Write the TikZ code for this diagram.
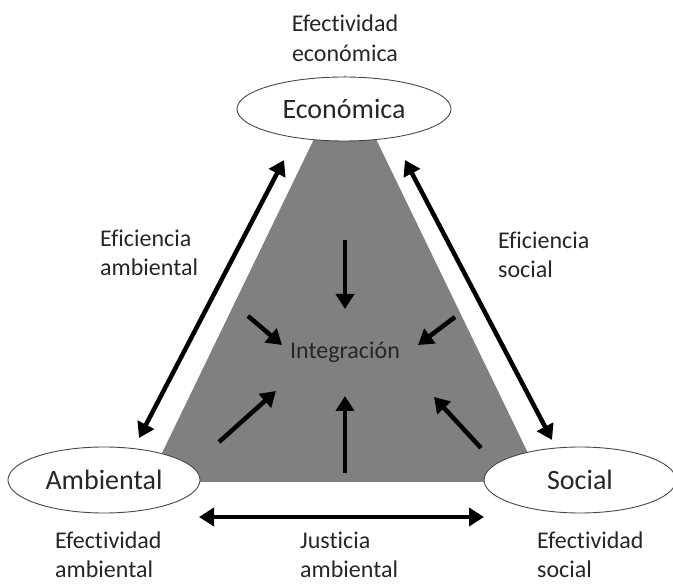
\documentclass[tikz,border=0pt]{standalone}
\usepackage{fontspec}
\setmainfont{Carlito}[RawFeature={-liga;-dlig;-clig}]
\usetikzlibrary{arrows.meta,shapes.geometric}
\definecolor{txt}{HTML}{262626}
\definecolor{tri}{HTML}{808080}
\tikzset{
  pole/.style={ellipse,draw=txt!85,line width=0.9pt,fill=white,inner sep=0pt,text=txt,font=\fontsize{28}{33}\selectfont},
  lbl/.style={text=txt,font=\fontsize{24}{29}\selectfont,align=left,anchor=north west,inner sep=0pt},
  dbl/.style={line width=4.5pt,{Triangle[length=15pt,width=18pt]}-{Triangle[length=15pt,width=18pt]}},
  sgl/.style={line width=4.5pt,-{Triangle[length=15pt,width=18pt]}}
}
\begin{document}
\begin{tikzpicture}[x=1pt,y=-1pt]
\useasboundingbox (0,0) rectangle (673,585);
\fill[tri] (345,75) -- (148,482) -- (542,482) -- cycle;
\node[pole,minimum width=214pt,minimum height=64pt] (eco) at (344,109) {Económica};
\node[pole,minimum width=192pt,minimum height=66pt] (amb) at (104,480) {Ambiental};
\node[pole,minimum width=192pt,minimum height=66pt] (soc) at (580,480) {Social};
\node[text=txt,font=\fontsize{24}{30}\selectfont] (int) at (345,352) {Integración};
\node[text=txt,font=\fontsize{24}{30}\selectfont,align=center] (te) at (345,38) {Efectividad\\económica};
\node[lbl] (ea) at (100,230) {Eficiencia\\ambiental};
\node[lbl] (es) at (498,232) {Eficiencia\\social};
\node[lbl] (efa) at (55,532) {Efectividad\\ambiental};
\node[lbl] (ja) at (300,532) {Justicia\\ambiental};
\node[lbl] (efs) at (537,532) {Efectividad\\social};
% outer arrows
\coordinate (l1) at (139,438);
\coordinate (l2) at (284,160);
\coordinate (r1) at (405,160);
\coordinate (r2) at (552,440);
\coordinate (b1) at (199,517);
\coordinate (b2) at (484,517);
\draw[dbl] (l1) -- (l2);
\draw[dbl] (r1) -- (r2);
\draw[dbl] (b1) -- (b2);
% inner arrows
\coordinate (t0) at (345,240); \coordinate (t1) at (345,309);
\coordinate (ul0) at (248,316); \coordinate (ul1) at (282,345);
\coordinate (ur0) at (455,317); \coordinate (ur1) at (418,345);
\coordinate (ll0) at (219,442); \coordinate (ll1) at (276,391);
\coordinate (lr0) at (481,448); \coordinate (lr1) at (434,397);
\coordinate (bt0) at (345,473); \coordinate (bt1) at (345,396);
\draw[sgl] (t0) -- (t1);
\draw[sgl] (ul0) -- (ul1);
\draw[sgl] (ur0) -- (ur1);
\draw[sgl] (ll0) -- (ll1);
\draw[sgl] (lr0) -- (lr1);
\draw[sgl] (bt0) -- (bt1);
\end{tikzpicture}
\end{document}
